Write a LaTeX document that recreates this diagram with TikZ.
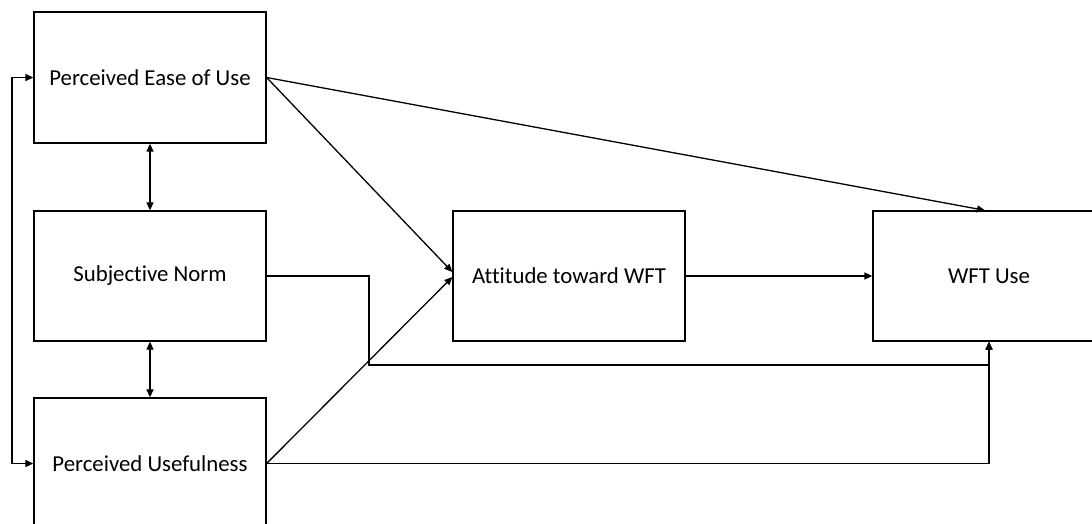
\documentclass[tikz,border=0pt]{standalone}
\usepackage{fontspec}
\setmainfont[Ligatures={NoCommon}]{Carlito}
\usetikzlibrary{arrows.meta}
\begin{document}
\begin{tikzpicture}[x=1pt,y=-1pt,
  box/.style={draw,line width=1.3pt,minimum width=232pt,minimum height=130pt,inner sep=0pt,font=\fontsize{22.8}{27}\selectfont},
  conn/.style={line width=1.3pt},
  arr/.style={conn,-{Triangle[length=8pt,width=7pt]}},
  darr/.style={conn,{Triangle[length=8pt,width=7pt]}-{Triangle[length=8pt,width=7pt]}}]
\useasboundingbox (0,0) rectangle (1092,524);
\clip (0,0) rectangle (1092,524);
\fill[white] (0,0) rectangle (1092,524);
\node[box,minimum height=131pt] (PEU) at (150,77.5) {Perceived Ease of Use};
\node[box] (SN) at (150,276) {Subjective Norm};
\node[box,minimum height=131pt] (PU) at (150,463.5) {Perceived Usefulness};
\node[box] (ATT) at (569,276) {Attitude toward WFT};
\node[box] (WFT) at (989,276) {WFT Use};
\coordinate (loopx) at (12,0);
\coordinate (snbend) at (369,365);
\draw[darr] (PEU.south) -- (SN.north);
\draw[darr] (SN.south) -- (PU.north);
\draw[darr] (PEU.west) -- (PEU.west -| loopx) -- (PU.west -| loopx) -- (PU.west);
\draw[arr] (PEU.east) -- ([yshift=4pt]ATT.west);
\draw[arr] (PU.east) -- ([yshift=-1pt]ATT.west);
\draw[arr] (PEU.east) -- ([xshift=-4pt]WFT.north);
\draw[arr] (ATT.east) -- (WFT.west);
\draw[arr] (SN.east) -| (snbend) -| (WFT.south);
\draw[arr] (PU.east) -| (WFT.south);
\end{tikzpicture}
\end{document}
